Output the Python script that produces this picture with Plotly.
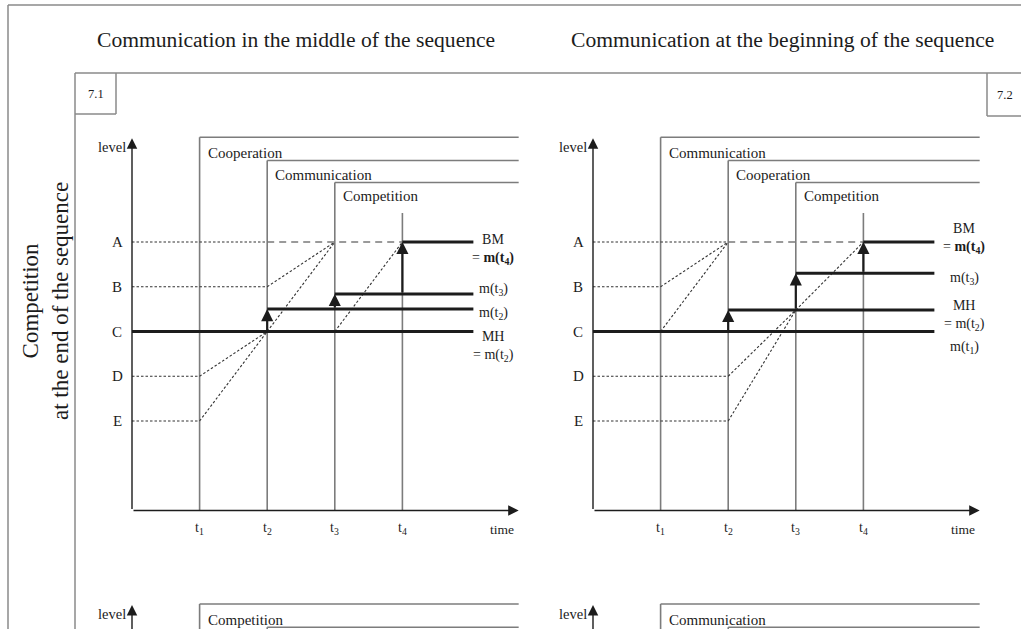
import plotly.graph_objects as go

W, H = 1021, 629

# ---------------- data ----------------
times = [1, 2, 3, 4]
time_labels = ["t<sub>1</sub>", "t<sub>2</sub>", "t<sub>3</sub>", "t<sub>4</sub>"]
level_names = ["A", "B", "C", "D", "E"]
level_values = [6.0, 5.0, 4.0, 3.0, 2.0]

column_titles = ["Communication in the middle of the sequence",
                 "Communication at the beginning of the sequence"]
row_title = "Competition<br>at the end of the sequence"
panel_ids = ["7.1", "7.2"]

phases_71 = ["Cooperation", "Communication", "Competition"]
phases_72 = ["Communication", "Cooperation", "Competition"]
phases_73 = ["Competition", "Communication", "Cooperation"]
phases_74 = ["Communication", "Competition", "Cooperation"]
phase_tops = [8.34, 7.82, 7.33]      # height of the phase frames opened at t1, t2, t3
t4_top = 6.65
level_axis_top = 8.32
time_axis_end = 5.72
frame_end = 5.72
m_line_end = 5.05

m_71 = [4.0, 4.50, 4.84, 6.0]        # m(t1) .. m(t4)
m_72 = [4.0, 4.48, 5.30, 6.0]

m_labels_71 = ["MH<br>= m(t<sub>2</sub>)", "m(t<sub>2</sub>)", "m(t<sub>3</sub>)",
               "BM<br>= <b>m(t<sub>4</sub>)</b>"]
m_labels_72 = ["m(t<sub>1</sub>)", "MH<br>= m(t<sub>2</sub>)", "m(t<sub>3</sub>)",
               "BM<br>= <b>m(t<sub>4</sub>)</b>"]

A, B, C, D, E = level_values
T0, T1, T2, T3, T4 = 0, times[0], times[1], times[2], times[3]
guides_dot_71 = [(T0, A, T2, A), (T0, B, T2, B), (T0, D, T1, D), (T0, E, T1, E),
                 (T2, B, T3, A), (T2, C, T3, A), (T1, D, T2, C), (T1, E, T2, C),
                 (T3, C, T4, A)]
guides_dash_71 = [(T2, A, T4, A)]
guides_dot_72 = [(T0, A, T2, A), (T0, B, T1, B), (T0, D, T2, D), (T0, E, T2, E),
                 (T1, B, T2, A), (T1, C, T2, A), (T2, D, T3, m_72[1]), (T2, E, T3, m_72[1]),
                 (T3, m_72[1], T4, A)]
guides_dash_72 = [(T2, A, T4, A)]

# ---------------- style / geometry ----------------
FONT = "Liberation Serif, Times New Roman, serif"
INK = "#1c1c1c"
GREY = "#7c7c7c"
SX, SY = 67.6, 44.75   # pixels per time unit / level unit

panels = [
    dict(key="", ox=132, oy=510.5, box=(118, 530, 122, 548)),
    dict(key="2", ox=593, oy=510.5, box=(579, 1000, 122, 548)),
    dict(key="3", ox=132, oy=977.2, box=(118, 530, 592, 629)),
    dict(key="4", ox=593, oy=977.2, box=(579, 1000, 592, 629)),
]

fig = go.Figure()
layout_axes = {}
annotations = []
shapes = []


def seg_xy(segs):
    xs, ys = [], []
    for x0, y0, x1, y1 in segs:
        xs += [x0, x1, None]
        ys += [y0, y1, None]
    return xs, ys


def add_lines(key, segs, color, width, dash="solid"):
    xs, ys = seg_xy(segs)
    fig.add_trace(go.Scatter(x=xs, y=ys, mode="lines", xaxis="x" + key, yaxis="y" + key,
                             line=dict(color=color, width=width, dash=dash),
                             hoverinfo="skip", showlegend=False))


def ann(key, **kw):
    base = dict(xref="x" + key, yref="y" + key, showarrow=False,
                font=dict(family=FONT, size=15, color=INK))
    base.update(kw)
    annotations.append(base)


def arrow(key, x, y, ax, ay, width, size):
    annotations.append(dict(xref="x" + key, yref="y" + key, axref="x" + key, ayref="y" + key,
                            x=x, y=y, ax=ax, ay=ay, text="", showarrow=True,
                            arrowhead=2, arrowwidth=width, arrowsize=size,
                            arrowcolor=INK, standoff=0, startstandoff=0))


for p in panels:
    k = p["key"]
    L, R, T, Bm = p["box"]
    layout_axes["xaxis" + k] = dict(domain=[L / W, R / W],
                                    range=[(L - p["ox"]) / SX, (R - p["ox"]) / SX],
                                    visible=False, fixedrange=True, anchor="y" + k)
    layout_axes["yaxis" + k] = dict(domain=[1 - Bm / H, 1 - T / H],
                                    range=[(p["oy"] - Bm) / SY, (p["oy"] - T) / SY],
                                    visible=False, fixedrange=True, anchor="x" + k)

panel_data = [
    ("", phases_71, m_71, m_labels_71, guides_dot_71, guides_dash_71,
     [-15, -4, 4, -8], 20),
    ("2", phases_72, m_72, m_labels_72, guides_dot_72, guides_dash_72,
     [-16, -5, -5, 3], 30),
]
bottom_data = [("3", phases_73), ("4", phases_74)]

# phase frames and axes (all four panels)
for k, phases in [(d[0], d[1]) for d in panel_data] + bottom_data:
    frame_segs = []
    for t, top in zip(times[:3], phase_tops):
        frame_segs.append((t, 0, t, top))
        frame_segs.append((t, top, frame_end, top))
    frame_segs.append((times[3], 0, times[3], t4_top))
    add_lines(k, frame_segs, GREY, 1.6)
    # level axis & time axis
    arrow(k, 0, level_axis_top, 0, 0, 1.4, 1.5)
    arrow(k, time_axis_end, 0, 0, 0, 1.4, 1.5)
    ann(k, x=0, y=level_axis_top, text="level", xanchor="right", yanchor="middle",
        xshift=-4, yshift=-9, font=dict(family=FONT, size=14.5, color=INK))
    ann(k, x=times[0], y=phase_tops[0], text=phases[0], xanchor="left", yanchor="middle",
        xshift=6, yshift=-16)

# detailed contents of 7.1 and 7.2
for k, phases, m, mlabels, gdot, gdash, lshift, lx in panel_data:
    add_lines(k, gdot, "#333333", 1.1, dash="2.5px,2px")
    add_lines(k, gdash, "#7a7a7a", 1.3, dash="7px,5px")
    thick = [(0, m[0], m_line_end, m[0])] + [(times[i], m[i], m_line_end, m[i]) for i in range(1, 4)]
    add_lines(k, thick, INK, 3)
    for i in range(1, 4):
        arrow(k, times[i], m[i], times[i], m[i - 1], 2.2, 1.1)
    for i, (t, top) in enumerate(zip(times[1:3], phase_tops[1:3])):
        ann(k, x=t, y=top, text=phases[i + 1], xanchor="left", yanchor="middle",
            xshift=6, yshift=-14)
    for name, val in zip(level_names, level_values):
        ann(k, x=0, y=val, text=name, xanchor="center", yanchor="middle", xshift=-15)
    for t, lab in zip(times, time_labels):
        ann(k, x=t, y=0, text=lab, xanchor="center", yanchor="middle", yshift=-18,
            font=dict(family=FONT, size=14, color=INK))
    ann(k, x=5.48, y=0, text="time", xanchor="center", yanchor="middle", yshift=-19,
        font=dict(family=FONT, size=13.5, color=INK))
    for val, lab, sh in zip(m, mlabels, lshift):
        ann(k, x=m_line_end, y=val, text=lab, xanchor="center", yanchor="middle",
            xshift=lx, yshift=sh, align="center",
            font=dict(family=FONT, size=14, color=INK))

# ---------------- page frame, titles ----------------
def pline(x0, y0, x1, y1, color="#8a8a8a", width=1.5):
    shapes.append(dict(type="line", xref="paper", yref="paper",
                       x0=x0 / W, y0=1 - y0 / H, x1=x1 / W, y1=1 - y1 / H,
                       line=dict(color=color, width=width)))


pline(8, 5, W, 5)
pline(8, 5, 8, H)
pline(75, 73, W, 73)
pline(75, 73, 75, H)
pline(116, 73, 116, 114)
pline(75, 114, 116, 114)
pline(987, 73, 987, 116)
pline(987, 116, W, 116)

title_pos = [(296, 40), (782, 40)]
for (x, y), t in zip(title_pos, column_titles):
    annotations.append(dict(xref="paper", yref="paper", x=x / W, y=1 - y / H, text=t,
                            showarrow=False, xanchor="center", yanchor="middle",
                            font=dict(family=FONT, size=21.6, color=INK)))
annotations.append(dict(xref="paper", yref="paper", x=45 / W, y=1 - 301 / H, text=row_title,
                        showarrow=False, xanchor="center", yanchor="middle", textangle=-90,
                        font=dict(family=FONT, size=23, color=INK)))
for (x, y), t in zip([(95.5, 93.5), (1005, 95)], panel_ids):
    annotations.append(dict(xref="paper", yref="paper", x=x / W, y=1 - y / H, text=t,
                            showarrow=False, xanchor="center", yanchor="middle",
                            font=dict(family=FONT, size=12.5, color=INK)))

fig.update_layout(width=W, height=H, margin=dict(l=0, r=0, t=0, b=0),
                  paper_bgcolor="white", plot_bgcolor="rgba(0,0,0,0)",
                  showlegend=False, annotations=annotations, shapes=shapes,
                  **layout_axes)

fig.write_html("out.html", config=dict(displayModeBar=False),
               post_script="document.body.style.margin='0';document.body.style.overflow='hidden';")
